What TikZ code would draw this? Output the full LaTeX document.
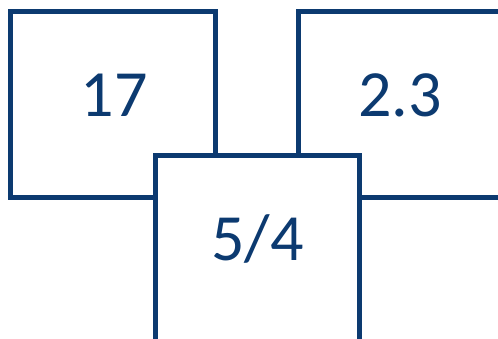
\documentclass[tikz,border=0pt]{standalone}
\usepackage{fontspec}
\setmainfont{Carlito}
\definecolor{boxblue}{RGB}{12,58,112}
\begin{document}
\begin{tikzpicture}[x=1pt,y=-1pt,
  box/.style={draw=boxblue,line width=5pt,fill=white,rectangle,inner sep=0pt,minimum width=204.5pt,minimum height=186pt},
  num/.style={text=boxblue,font=\fontsize{66pt}{70pt}\selectfont,anchor=base,inner sep=0pt}]
\useasboundingbox (0,0) rectangle (498,339);
\clip (0,0) rectangle (498,339);
\node[box] (b1) at (112.75,104.5) {};
\node[box] (b2) at (400.75,104.5) {};
\node[box] (b3) at (257.25,249) {};
\node[num] (t1) at (114,117) {17};
\node[num] (t2) at (400,117) {2.3};
\node[num] (t3) at (257.5,261) {5/4};
\end{tikzpicture}
\end{document}
